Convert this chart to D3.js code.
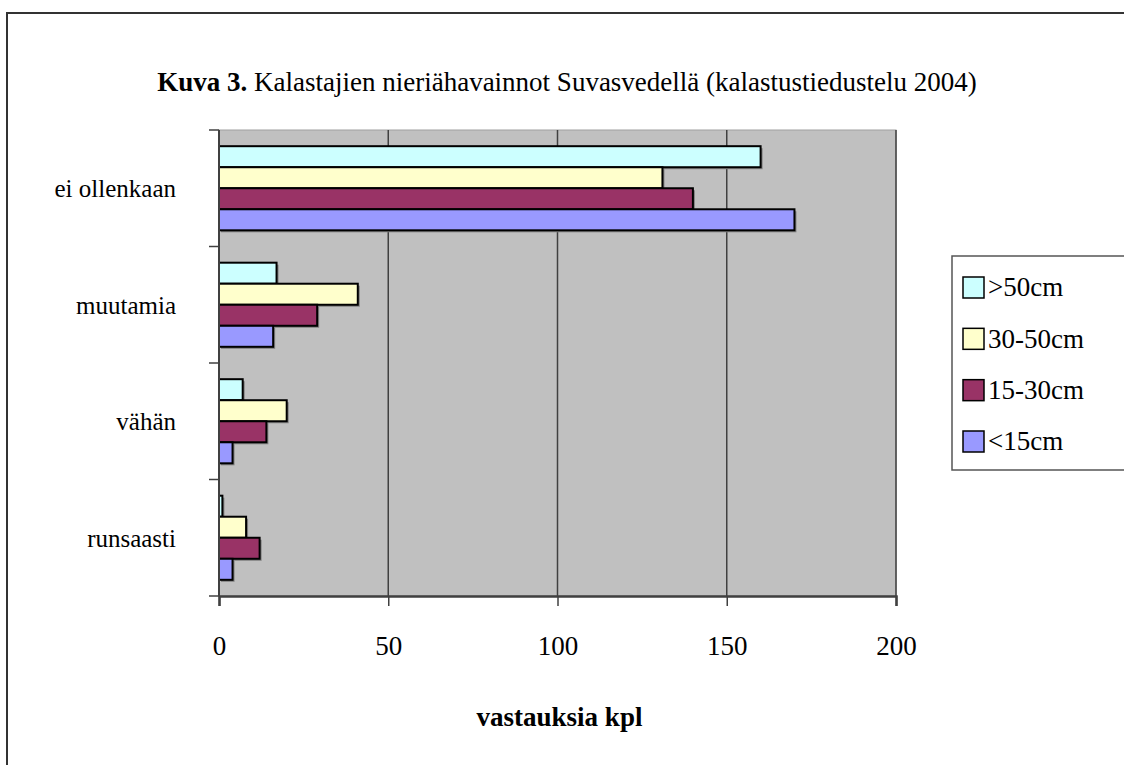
<!DOCTYPE html>
<html>
<head>
<meta charset="utf-8">
<script src="https://cdn.jsdelivr.net/npm/d3@7"></script>
<style>
  html, body { margin: 0; padding: 0; background: #fff; }
  svg text { font-family: "Liberation Serif", "Times New Roman", serif; }
</style>
</head>
<body>
<svg id="chart" width="1124" height="765"></svg>
<script>
const categories = ["ei ollenkaan", "muutamia", "vähän", "runsaasti"];
const seriesNames = [">50cm", "30-50cm", "15-30cm", "<15cm"];
const seriesColors = ["#CCFFFF", "#FFFFCC", "#993366", "#9999FF"];
const valuesOver50 = [160, 17, 7, 1];
const values30to50 = [131, 41, 20, 8];
const values15to30 = [140, 29, 14, 12];
const valuesUnder15 = [170, 16, 4, 4];
const xTicks = [0, 50, 100, 150, 200];

const seriesValues = [valuesOver50, values30to50, values15to30, valuesUnder15];
const FONT = "Liberation Serif";

const svg = d3.select("#chart");
const W = 1124, H = 765;

// outer frame
svg.append("rect").attr("x", 7).attr("y", 13).attr("width", W + 10).attr("height", H + 10)
  .attr("fill", "#fff").attr("stroke", "#333").attr("stroke-width", 2);

const x0 = 219, x1 = 896, y0 = 130, y1 = 596;
const x = d3.scaleLinear().domain([0, 200]).range([x0, x1]);
const y = d3.scaleBand().domain(categories).range([y0, y1]).padding(0);
const yi = d3.scaleBand().domain(seriesNames).range([0, y.bandwidth()]).paddingInner(0).paddingOuter(0.77);

// plot background
svg.append("rect").attr("x", x0).attr("y", y0).attr("width", x1 - x0).attr("height", y1 - y0)
  .attr("fill", "#C0C0C0").attr("stroke", "#a0a0a0").attr("stroke-width", 1);

// gridlines
svg.append("g").selectAll("line").data(xTicks.slice(1)).join("line")
  .attr("x1", d => x(d)).attr("x2", d => x(d)).attr("y1", y0).attr("y2", y1)
  .attr("stroke", "#404040").attr("stroke-width", 1.5);

// bars
const data = [];
categories.forEach((c, ci) => seriesNames.forEach((s, si) => data.push({ c, s, si, v: seriesValues[si][ci] })));

const gBars = svg.append("g");
gBars.selectAll("rect.shadow").data(data).join("rect").attr("class", "shadow")
  .attr("x", x(0) + 2).attr("y", d => y(d.c) + yi(d.s) + 2)
  .attr("width", d => x(d.v) - x(0)).attr("height", yi.bandwidth())
  .attr("fill", "#808080");
gBars.selectAll("rect.bar").data(data).join("rect").attr("class", "bar")
  .attr("x", x(0)).attr("y", d => y(d.c) + yi(d.s))
  .attr("width", d => x(d.v) - x(0)).attr("height", yi.bandwidth())
  .attr("fill", d => seriesColors[d.si]).attr("stroke", "#000").attr("stroke-width", 2);

// y axis
const yAxisG = svg.append("g").attr("transform", `translate(${x0},0)`);
yAxisG.append("line").attr("x1", 0).attr("x2", 0).attr("y1", y0).attr("y2", y1)
  .attr("stroke", "#404040").attr("stroke-width", 2);
const yTickPos = categories.map(c => y(c)).concat([y1]);
yAxisG.selectAll("line.tick").data(yTickPos).join("line").attr("class", "tick")
  .attr("x1", -10).attr("x2", 0).attr("y1", d => d).attr("y2", d => d)
  .attr("stroke", "#404040").attr("stroke-width", 1.5);
yAxisG.selectAll("text").data(categories).join("text")
  .attr("x", -43).attr("y", d => y(d) + y.bandwidth() / 2)
  .attr("dy", "0.35em").attr("text-anchor", "end")
  .attr("font-family", FONT).attr("font-size", 25).text(d => d);

// x axis
const xAxis = d3.axisBottom(x).tickValues(xTicks).tickSize(10).tickPadding(30);
const xAxisG = svg.append("g").attr("transform", `translate(0,${y1})`).call(xAxis)
  .attr("font-family", FONT).attr("font-size", 27);
xAxisG.select(".domain").attr("stroke", "#404040").attr("stroke-width", 2.5);
xAxisG.selectAll(".tick line").attr("stroke", "#404040").attr("stroke-width", 1.5);
xAxisG.selectAll(".tick text").attr("font-size", 27).attr("fill", "#000")
  .attr("font-family", FONT);

// axis title
svg.append("text").attr("x", (x0 + x1) / 2 + 2).attr("y", 726).attr("text-anchor", "middle")
  .attr("font-family", FONT).attr("font-size", 27).attr("font-weight", "bold").text("vastauksia kpl");

// title
const t = svg.append("text").attr("x", 567).attr("y", 91).attr("text-anchor", "middle")
  .attr("font-family", FONT).attr("font-size", 27);
t.append("tspan").attr("font-weight", "bold").text("Kuva 3.");
t.append("tspan").text(" Kalastajien nieriähavainnot Suvasvedellä (kalastustiedustelu 2004)");

// legend
const lg = svg.append("g");
lg.append("rect").attr("x", 952).attr("y", 256).attr("width", 200).attr("height", 214)
  .attr("fill", "#fff").attr("stroke", "#555").attr("stroke-width", 1.5);
const ly = d3.scalePoint().domain(seriesNames).range([287, 441]);
lg.selectAll("rect.sw").data(seriesNames).join("rect").attr("class", "sw")
  .attr("x", 963).attr("y", d => ly(d) - 10).attr("width", 21).attr("height", 21)
  .attr("fill", (d, i) => seriesColors[i]).attr("stroke", "#000").attr("stroke-width", 1.5);
lg.selectAll("text").data(seriesNames).join("text")
  .attr("x", 988).attr("y", d => ly(d)).attr("dy", "0.35em")
  .attr("font-family", FONT).attr("font-size", 27).text(d => d);
</script>
</body>
</html>
